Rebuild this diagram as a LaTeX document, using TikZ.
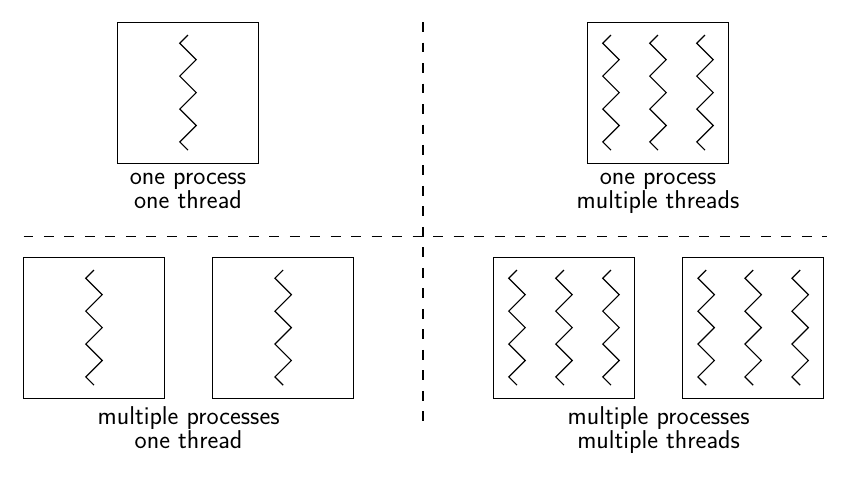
\documentclass[tikz,border=0pt]{standalone}
\usepackage{fontspec}
\usetikzlibrary{positioning}

% one thread as a zigzag, centred on the given point
\newcommand{\drawthread}[1]{%
  \draw (#1) ++(0,1.225) -- ++(-0.175,-0.175)
    \foreach \k in {1,2,3} {-- ++(0.35,-0.35) -- ++(-0.35,-0.35)}
    -- ++(0.175,-0.175);
}

\begin{document}
\begin{tikzpicture}[line width=0.7pt,
    proc/.style={rectangle, draw, minimum size=3cm, inner sep=0pt},
    lbl/.style={align=center, inner sep=0pt, font=\sffamily\fontsize{15.6}{14.6}\selectfont},
    sep/.style={dash pattern=on 6pt off 6.4pt}]
  \useasboundingbox (0,0) rectangle (18,-10.32);
  % one process, one thread
  \node[proc] (a) at (4,-1.97) {};
  \node[lbl, below=0.18cm of a] (a-txt) {one process\\one thread};
  \drawthread{a.center}
  % one process, multiple threads
  \node[proc] (b) at (14,-1.97) {};
  \node[lbl, below=0.18cm of b] (b-txt) {one process\\multiple threads};
  \foreach \dx in {-1,0,1} {\drawthread{[xshift=\dx cm]b.center}}
  % multiple processes, one thread
  \node[proc] (c1) at (2,-6.97) {};
  \node[proc, right=1cm of c1] (c2) {};
  \node[lbl, below=0.15cm of c1.south east, xshift=0.5cm] (c-txt) {multiple processes\\one thread};
  \drawthread{c1.center}
  \drawthread{c2.center}
  % multiple processes, multiple threads
  \node[proc] (d1) at (12,-6.97) {};
  \node[proc, right=1cm of d1] (d2) {};
  \node[lbl, below=0.15cm of d1.south east, xshift=0.5cm] (d-txt) {multiple processes\\multiple threads};
  \foreach \dx in {-1,0,1} {
    \drawthread{[xshift=\dx cm]d1.center}
    \drawthread{[xshift=\dx cm]d2.center}
  }
  % dividers
  \draw[sep] (0.5,-5.03) -- (17.6,-5.03);
  \draw[sep] (9,-0.47) -- (9,-9.08);
\end{tikzpicture}
\end{document}
